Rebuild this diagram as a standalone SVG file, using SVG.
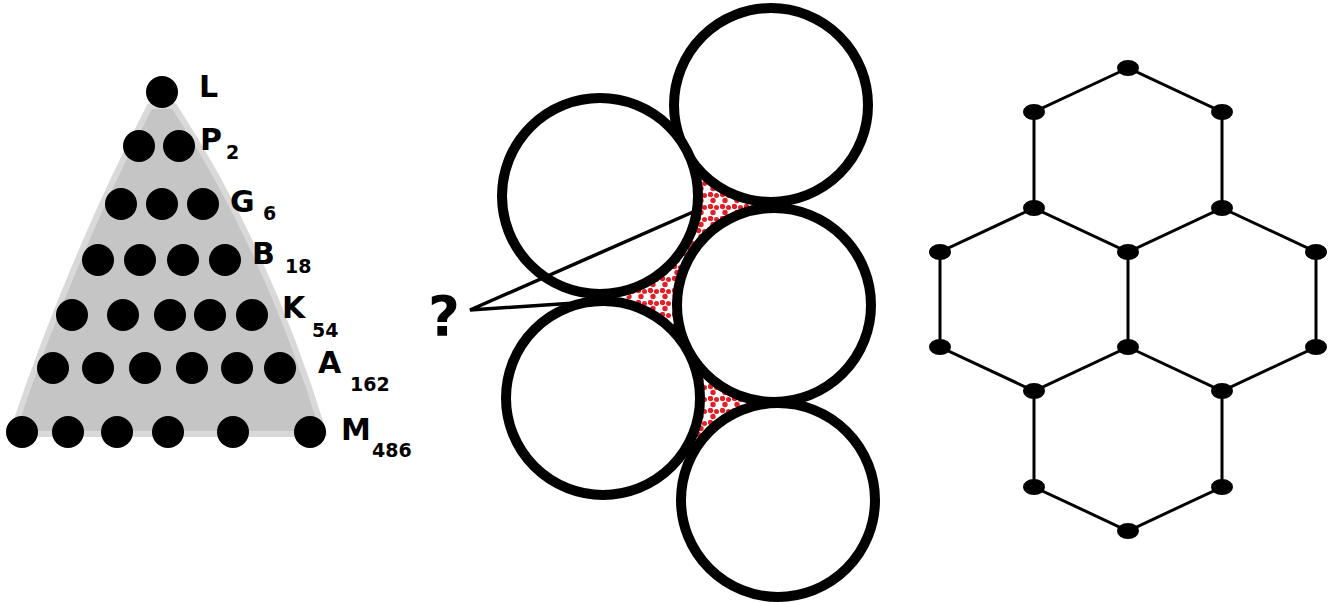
<svg xmlns="http://www.w3.org/2000/svg" width="1334" height="602" viewBox="0 0 1334 602">
<defs>
<style>
.lbl{font-family:"DejaVu Sans","Liberation Sans",Arial,sans-serif;font-weight:bold;fill:#000}
.big{font-size:30px}
.sub{font-size:19px}
.dot{fill:#000}
.ring{fill:#fff;stroke:#000;stroke-width:10}
.edge{stroke:#000;stroke-width:3;fill:none}
.node{fill:#000}
.lead{stroke:#000;stroke-width:3.5;fill:none;stroke-linejoin:miter}
</style>
<pattern id="reddots" width="12" height="12" patternUnits="userSpaceOnUse">
<circle cx="2.5" cy="2.5" r="2.7" fill="#e41f26"/>
<circle cx="8.5" cy="3.5" r="2.5" fill="#e41f26"/>
<circle cx="5" cy="8.5" r="2.7" fill="#e41f26"/>
</pattern>
</defs>
<rect width="1334" height="602" fill="#fff"/>

<g id="pyramid">
<path d="M150,106 L174,106 Q268,250 324,434 L12,434 Q70,260 150,106 Z" fill="#c5c5c5" stroke="#d9d9d9" stroke-width="6" stroke-linejoin="round"/>
<g id="row-L"><circle class="dot" cx="162" cy="92" r="16"/></g>
<g id="row-P"><circle class="dot" cx="139" cy="146" r="16"/><circle class="dot" cx="179" cy="146" r="16"/></g>
<g id="row-G"><circle class="dot" cx="121" cy="204" r="16"/><circle class="dot" cx="162" cy="204" r="16"/><circle class="dot" cx="203" cy="204" r="16"/></g>
<g id="row-B"><circle class="dot" cx="98" cy="260" r="16"/><circle class="dot" cx="140" cy="260" r="16"/><circle class="dot" cx="183" cy="260" r="16"/><circle class="dot" cx="225" cy="260" r="16"/></g>
<g id="row-K"><circle class="dot" cx="72" cy="315" r="16"/><circle class="dot" cx="123" cy="315" r="16"/><circle class="dot" cx="170" cy="315" r="16"/><circle class="dot" cx="210" cy="315" r="16"/><circle class="dot" cx="252" cy="315" r="16"/></g>
<g id="row-A"><circle class="dot" cx="53" cy="368" r="16"/><circle class="dot" cx="98" cy="368" r="16"/><circle class="dot" cx="145" cy="368" r="16"/><circle class="dot" cx="192" cy="368" r="16"/><circle class="dot" cx="237" cy="368" r="16"/><circle class="dot" cx="280" cy="368" r="16"/></g>
<g id="row-M"><circle class="dot" cx="22" cy="432" r="16"/><circle class="dot" cx="68" cy="432" r="16"/><circle class="dot" cx="117" cy="432" r="16"/><circle class="dot" cx="168" cy="432" r="16"/><circle class="dot" cx="233" cy="432" r="16"/><circle class="dot" cx="310" cy="432" r="16"/></g>
<g id="labels">
<text class="lbl big" x="199" y="97">L</text>
<text class="lbl big" x="200" y="150">P</text><text class="lbl sub" x="226" y="159">2</text>
<text class="lbl big" x="230" y="212">G</text><text class="lbl sub" x="263" y="220">6</text>
<text class="lbl big" x="252" y="264">B</text><text class="lbl sub" x="285" y="273">18</text>
<text class="lbl big" x="282" y="318">K</text><text class="lbl sub" x="312" y="337">54</text>
<text class="lbl big" x="318" y="373">A</text><text class="lbl sub" x="350" y="391">162</text>
<text class="lbl big" x="341" y="440">M</text><text class="lbl sub" x="372" y="457">486</text>
</g>
</g>

<g id="packing">
<g id="gaps">
<polygon points="688,155 778,205 688,255" fill="url(#reddots)"/>
<polygon points="622,300 690,250 690,350" fill="url(#reddots)"/>
<polygon points="692,352 780,402 692,452" fill="url(#reddots)"/>
</g>
<g id="circle-top-right"><circle class="ring" cx="771" cy="105" r="97"/></g>
<g id="circle-upper-left"><circle class="ring" cx="600" cy="196" r="98"/></g>
<g id="circle-mid-right"><circle class="ring" cx="774" cy="305" r="97"/></g>
<g id="circle-lower-left"><circle class="ring" cx="603" cy="398" r="97"/></g>
<g id="circle-bottom-right"><circle class="ring" cx="778" cy="500" r="97"/></g>
<g id="question">
<text class="lbl" x="428" y="335" font-size="55">?</text>
<polyline class="lead" points="693,212 470,310 590,302"/>
</g>
</g>

<g id="honeycomb">
<g id="hex-edges">
<path class="edge" d="M1128,68 L1034,112 L1034,208 L1128,252 L1222,208 L1222,112 Z"/>
<path class="edge" d="M1034,208 L940,252 L940,347 L1034,391 L1128,347 L1128,252"/>
<path class="edge" d="M1222,208 L1316,252 L1316,347 L1222,391 L1128,347"/>
<path class="edge" d="M1034,391 L1034,487 L1128,531 L1222,487 L1222,391"/>
</g>
<g id="hex-nodes">
<ellipse class="node" cx="1128" cy="68" rx="11" ry="8"/>
<ellipse class="node" cx="1034" cy="112" rx="11" ry="8"/>
<ellipse class="node" cx="1222" cy="112" rx="11" ry="8"/>
<ellipse class="node" cx="1034" cy="208" rx="11" ry="8"/>
<ellipse class="node" cx="1222" cy="208" rx="11" ry="8"/>
<ellipse class="node" cx="940" cy="252" rx="11" ry="8"/>
<ellipse class="node" cx="1128" cy="252" rx="11" ry="8"/>
<ellipse class="node" cx="1316" cy="252" rx="11" ry="8"/>
<ellipse class="node" cx="940" cy="347" rx="11" ry="8"/>
<ellipse class="node" cx="1128" cy="347" rx="11" ry="8"/>
<ellipse class="node" cx="1316" cy="347" rx="11" ry="8"/>
<ellipse class="node" cx="1034" cy="391" rx="11" ry="8"/>
<ellipse class="node" cx="1222" cy="391" rx="11" ry="8"/>
<ellipse class="node" cx="1034" cy="487" rx="11" ry="8"/>
<ellipse class="node" cx="1222" cy="487" rx="11" ry="8"/>
<ellipse class="node" cx="1128" cy="531" rx="11" ry="8"/>
</g>
</g>
</svg>
